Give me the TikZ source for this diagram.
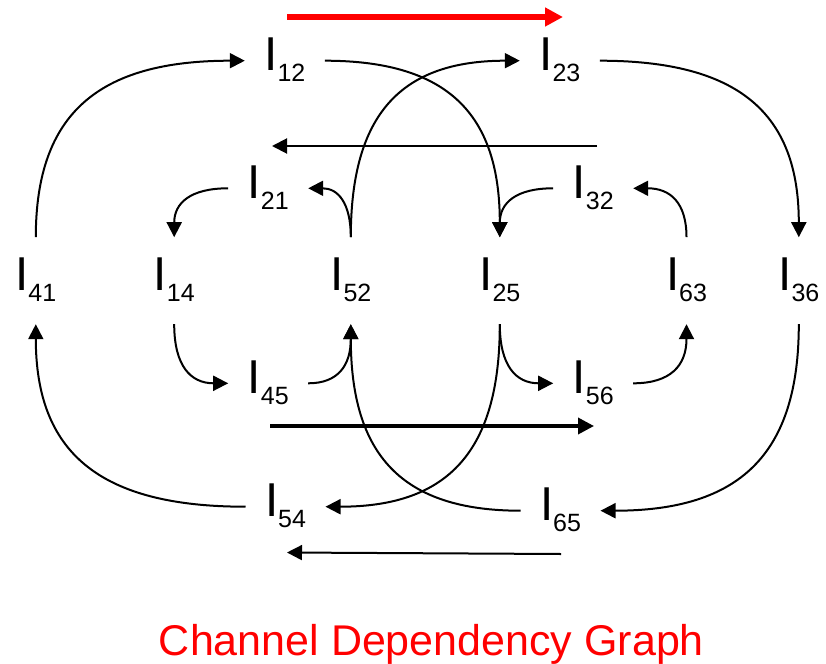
\documentclass[tikz,border=0pt]{standalone}
\usepackage{fontspec}
\setmainfont{Liberation Sans}
\usetikzlibrary{arrows.meta}
\definecolor{cdgred}{RGB}{255,0,0}
\newcommand{\chlbl}[1]{\rule[-14pt]{0pt}{48pt}I\raisebox{-11pt}{\fontsize{25}{25}\selectfont #1}}
\begin{document}
\begin{tikzpicture}[x=1pt,y=-1pt,
  chnode/.style={inner sep=0pt,outer xsep=19.5pt,outer ysep=19.5pt,font=\fontsize{47.5}{47.5}\selectfont},
  conn/.style={line width=2pt,-{Triangle[length=15pt,width=15pt]}},
  thickconn/.style={line width=3.6pt,-{Triangle[length=16pt,width=16pt]}},
  redconn/.style={draw=cdgred,line width=5.5pt,-{Triangle[length=18pt,width=18pt]},cdgred},
  caption/.style={text=cdgred,font=\fontsize{43}{43}\selectfont,inner sep=0pt,anchor=base}]
\useasboundingbox (0,0) rectangle (826,663);
% nodes
\node[chnode] (n12) at (284.8,60.7) {\chlbl{12}};
\node[chnode] (n23) at (559.8,60.7) {\chlbl{23}};
\node[chnode] (n21) at (268.2,188.3) {\chlbl{21}};
\node[chnode] (n32) at (593.2,188.3) {\chlbl{32}};
\node[chnode] (n41) at (35.8,280.7) {\chlbl{41}};
\node[chnode] (n14) at (174.2,280.7) {\chlbl{14}};
\node[chnode] (n52) at (350.8,280.7) {\chlbl{52}};
\node[chnode] (n25) at (499.8,280.7) {\chlbl{25}};
\node[chnode] (n63) at (686.5,280.7) {\chlbl{63}};
\node[chnode] (n36) at (798.8,280.7) {\chlbl{36}};
\node[chnode] (n45) at (268.2,383.3) {\chlbl{45}};
\node[chnode] (n56) at (593.2,383.3) {\chlbl{56}};
\node[chnode] (n54) at (285.5,506.7) {\chlbl{54}};
\node[chnode] (n65) at (560.5,510.7) {\chlbl{65}};
\node[caption] (cap) at (431.5,655) {Channel Dependency Graph};
% free line ends
\coordinate (r1) at (287,17);
\coordinate (r2) at (563,17);
\coordinate (h1) at (597,146);
\coordinate (h2) at (272,146);
\coordinate (t1) at (270,426);
\coordinate (t2) at (594,426);
\coordinate (b1) at (561,554);
\coordinate (b2) at (287,552.5);
% straight arrows
\draw[redconn] (r1) -- (r2);
\draw[conn] (h1) -- (h2);
\draw[thickconn] (t1) -- (t2);
\draw[conn] (b1) -- (b2);
% large curves
\draw[conn] (n41.north) .. controls +(0,-123.6) and +(-146.3,0) .. (n12.west);
\draw[conn] (n12.east) .. controls +(122.5,0) and +(0,-123.6) .. (n25.north);
\draw[conn] (n52.north) .. controls +(0,-123.6) and +(-118.3,0) .. (n23.west);
\draw[conn] (n23.east) .. controls +(139.3,0) and +(0,-123.6) .. (n36.north);
\draw[conn] (n54.west) .. controls +(-146.8,0) and +(0,127.8) .. (n41.south);
\draw[conn] (n25.south) .. controls +(0,127.8) and +(122,0) .. (n54.east);
\draw[conn] (n65.west) .. controls +(-118.8,0) and +(0,130.6) .. (n52.south);
\draw[conn] (n36.south) .. controls +(0,130.6) and +(138.8,0) .. (n65.east);
% small curves
\draw[conn] (n21.west) .. controls +(-37.8,0) and +(0,-34.2) .. (n14.north);
\draw[conn] (n52.north) .. controls +(0,-34.2) and +(29.8,0) .. (n21.east);
\draw[conn] (n32.west) .. controls +(-37.4,0) and +(0,-34.2) .. (n25.north);
\draw[conn] (n63.north) .. controls +(0,-34.2) and +(37.3,0) .. (n32.east);
\draw[conn] (n14.south) .. controls +(0,41.4) and +(-37.8,0) .. (n45.west);
\draw[conn] (n45.east) .. controls +(29.8,0) and +(0,41.4) .. (n52.south);
\draw[conn] (n25.south) .. controls +(0,41.4) and +(-37.4,0) .. (n56.west);
\draw[conn] (n56.east) .. controls +(37.3,0) and +(0,41.4) .. (n63.south);
\end{tikzpicture}
\end{document}
